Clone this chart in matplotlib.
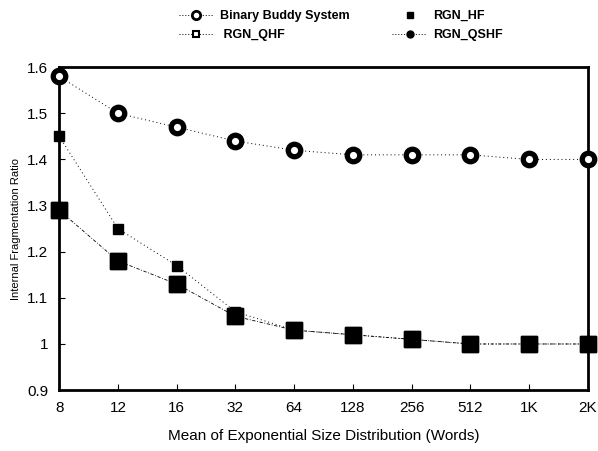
import matplotlib
matplotlib.use("Agg")
import matplotlib.pyplot as plt
from matplotlib.lines import Line2D
import numpy as np

plt.rcParams["font.family"] = ["Liberation Sans", "DejaVu Sans"]

# Data
x_labels = ["8", "12", "16", "32", "64", "128", "256", "512", "1K", "2K"]
buddy = [1.58, 1.50, 1.47, 1.44, 1.42, 1.41, 1.41, 1.41, 1.40, 1.40]
rgn_qhf = [1.45, 1.25, 1.17, 1.07, 1.03, 1.02, 1.01, 1.00, 1.00, 1.00]
rgn_hf = [1.29, 1.18, 1.13, 1.06, 1.03, 1.02, 1.01, 1.00, 1.00, 1.00]
rgn_qshf = [1.29, 1.18, 1.13, 1.06, 1.03, 1.02, 1.01, 1.00, 1.00, 1.00]

x = np.arange(len(x_labels))

fig = plt.figure(figsize=(5.98, 4.51), dpi=100)
ax = fig.add_axes([0.099, 0.135, 0.884, 0.716])

ax.plot(x, buddy, color="black", linestyle=(0, (1, 3)), linewidth=0.7,
        marker="o", markersize=9, markerfacecolor="white",
        markeredgecolor="black", markeredgewidth=3.8, clip_on=False, zorder=3)
ax.plot(x, rgn_qhf, color="black", linestyle=(0, (1, 3)), linewidth=0.7,
        marker="s", markersize=7.5, clip_on=False, zorder=3)
ax.plot(x, rgn_hf, color="black", linestyle="none",
        marker="s", markersize=11, clip_on=False, zorder=4)
ax.plot(x, rgn_qshf, color="black", linestyle=(0, (4, 2, 1, 2)), linewidth=0.6,
        marker="s", markersize=11, clip_on=False, zorder=4)

# legend proxies (the legend symbols are drawn smaller than the plot marks)
handles = [
    Line2D([], [], color="black", linestyle=(0, (1, 2)), linewidth=0.7,
           marker="o", markersize=6, markerfacecolor="white", markeredgewidth=2),
    Line2D([], [], color="black", linestyle=(0, (1, 2)), linewidth=0.7,
           marker="s", markersize=5, markerfacecolor="white", markeredgewidth=1.5),
    Line2D([], [], color="black", linestyle="none", marker="s", markersize=5),
    Line2D([], [], color="black", linestyle=(0, (1, 2)), linewidth=0.7,
           marker="o", markersize=5),
]
labels = ["Binary Buddy System", " RGN_QHF", "RGN_HF", "RGN_QSHF"]

ax.set_xlim(0, len(x_labels) - 1)
ax.set_ylim(0.9, 1.6)
ax.set_xticks(x)
ax.set_xticklabels(x_labels, fontsize=11)
ax.set_yticks([0.9, 1.0, 1.1, 1.2, 1.3, 1.4, 1.5, 1.6])
ax.set_yticklabels(["0.9", "1", "1.1", "1.2", "1.3", "1.4", "1.5", "1.6"], fontsize=11)
ax.tick_params(direction="in", length=4, width=0.8, pad=8)

for side in ["left", "bottom", "top", "right"]:
    ax.spines[side].set_linewidth(2.0)

ax.set_xlabel("Mean of Exponential Size Distribution (Words)", fontsize=11, labelpad=10)
ax.set_ylabel("Internal Fragmentation Ratio", fontsize=8, labelpad=4)

fig.legend(handles, labels, loc="upper center", bbox_to_anchor=(0.57, 1.003),
           ncol=2, frameon=False, handlelength=2.8, handletextpad=0.5,
           columnspacing=3.4, labelspacing=0.6,
           prop={"weight": "bold", "size": 9})

fig.savefig("out.png", dpi=100)
